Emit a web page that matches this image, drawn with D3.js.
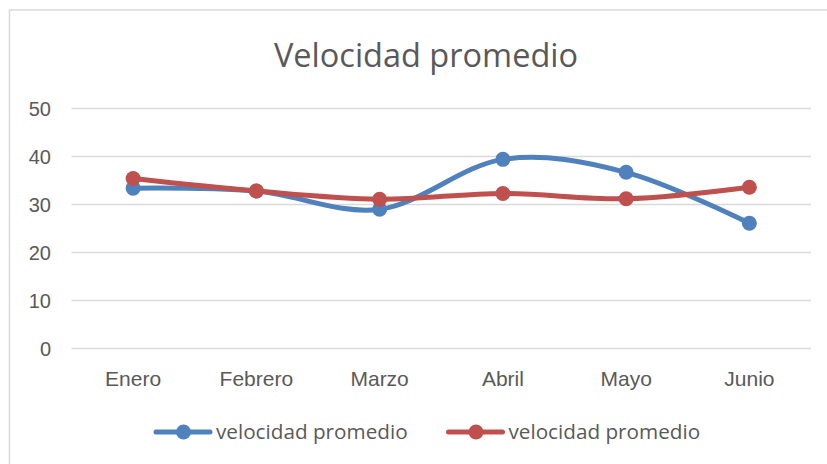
<!DOCTYPE html>
<html>
<head>
<meta charset="utf-8">
<script src="https://cdn.jsdelivr.net/npm/d3@7"></script>
<style>
  body { margin: 0; background: #fff; }
  svg { display: block; font-family: "Open Sans", sans-serif; }
  .tick text { fill: #595959; font-size: 20px; }
  .x-axis .tick text { font-size: 21px; }
  .grid line { stroke: #d9d9d9; stroke-width: 1.5; }
  .grid path { display: none; }
</style>
</head>
<body>
<div id="container"></div>
<script>
const months = ['Enero', 'Febrero', 'Marzo', 'Abril', 'Mayo', 'Junio'];
const blueValues = [33.3, 32.7, 28.9, 39.3, 36.6, 26.0];
const redValues = [35.3, 32.7, 31.0, 32.2, 31.1, 33.5];
const yTicks = [0, 10, 20, 30, 40, 50];
const seriesNames = ['velocidad promedio', 'velocidad promedio'];
const colors = ['#4F81BD', '#C0504D'];

const series = [blueValues, redValues];

const svg = d3.select('#container').append('svg')
    .attr('width', 827)
    .attr('height', 464);

// chart frame
svg.append('path')
    .attr('d', 'M9.5,470 V10 H830')
    .attr('fill', 'none')
    .attr('stroke', '#d9d9d9')
    .attr('stroke-width', 1.5);

const plotLeft = 71.5, plotRight = 811, plotTop = 108, plotBottom = 348;

const xScale = d3.scaleBand()
    .range([plotLeft, plotRight])
    .domain(months);

const yScale = d3.scaleLinear()
    .range([plotBottom, plotTop])
    .domain([0, 50]);

svg.append('g')
    .attr('class', 'grid')
    .attr('transform', `translate(${plotLeft}, 0)`)
    .call(d3.axisLeft(yScale)
        .tickValues(yTicks)
        .tickSize(-(plotRight - plotLeft))
        .tickFormat(''));

svg.append('g')
    .attr('transform', `translate(51, 0)`)
    .call(d3.axisLeft(yScale).tickValues(yTicks).tickSize(0).tickPadding(0))
    .call(g => g.select('.domain').remove())
    .selectAll('text').attr('dy', '0.35em');

svg.append('g')
    .attr('class', 'x-axis')
    .attr('transform', `translate(0, ${plotBottom})`)
    .call(d3.axisBottom(xScale).tickSize(0).tickPadding(23))
    .call(g => g.select('.domain').remove());

const cx = (m) => xScale(m) + xScale.bandwidth() / 2;

const line = d3.line()
    .x((d, i) => cx(months[i]))
    .y((d) => yScale(d))
    .curve(d3.curveCardinal.tension(0));

series.forEach((vals, s) => {
    svg.append('path')
        .datum(vals)
        .attr('fill', 'none')
        .attr('stroke', colors[s])
        .attr('stroke-width', 5)
        .attr('stroke-linecap', 'round')
        .attr('d', line);

    svg.selectAll(null)
        .data(vals)
        .enter()
        .append('circle')
        .attr('cx', (d, i) => cx(months[i]))
        .attr('cy', (d) => yScale(d))
        .attr('r', 7.5)
        .attr('fill', colors[s]);
});

svg.append('text')
    .attr('x', 426)
    .attr('y', 67)
    .attr('text-anchor', 'middle')
    .attr('fill', '#595959')
    .style('font-size', '32.5px')
    .text('Velocidad promedio');

// legend
const legendX = [156, 448.5];
seriesNames.forEach((name, s) => {
    const g = svg.append('g')
        .attr('transform', `translate(${legendX[s]}, 432)`);
    g.append('line')
        .attr('x1', 0).attr('x2', 54)
        .attr('stroke', colors[s])
        .attr('stroke-width', 5)
        .attr('stroke-linecap', 'round');
    g.append('circle')
        .attr('cx', 27.5)
        .attr('r', 7.5)
        .attr('fill', colors[s]);
    g.append('text')
        .attr('x', 60)
        .attr('dy', '0.35em')
        .attr('fill', '#595959')
        .style('font-size', '20.7px')
        .text(name);
});
</script>
</body>
</html>
